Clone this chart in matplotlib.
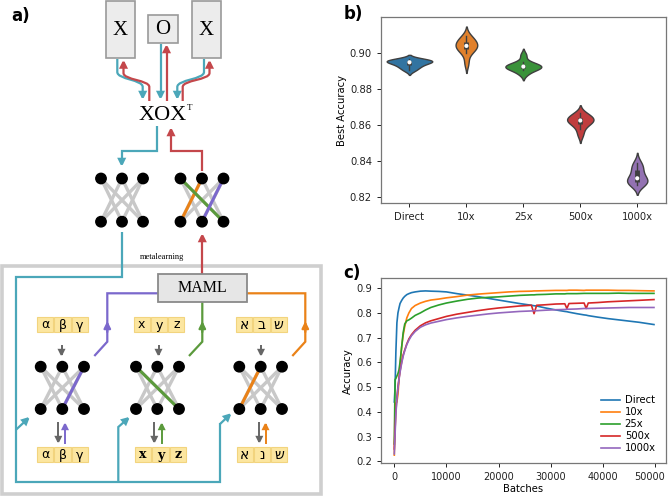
import matplotlib
matplotlib.use("Agg")
import matplotlib.pyplot as plt
import matplotlib.transforms as mtransforms
import numpy as np
from matplotlib.patches import Rectangle, Circle, FancyArrowPatch
from matplotlib.path import Path

W, H = 668, 496

# ---------------- data: panel b (best accuracy per run) ----------------
b_categories = ["Direct", "10x", "25x", "500x", "1000x"]
b_direct = [0.8905, 0.892, 0.893, 0.894, 0.8947, 0.8953, 0.8957, 0.896, 0.8963, 0.8966]
b_10x = [0.8945, 0.900, 0.902, 0.903, 0.9038, 0.9045, 0.9055, 0.9068, 0.908, 0.9095]
b_25x = [0.8885, 0.8905, 0.8915, 0.892, 0.8924, 0.8928, 0.8932, 0.8938, 0.895, 0.899]
b_500x = [0.8545, 0.858, 0.8605, 0.8615, 0.8622, 0.8628, 0.8635, 0.8642, 0.8655, 0.8665]
b_1000x = [0.8265, 0.8275, 0.8282, 0.8288, 0.8295, 0.831, 0.833, 0.8355, 0.837, 0.839]
b_colors = ["#3274a1", "#e1812c", "#3a923a", "#c03d3e", "#9372b2"]

# ---------------- data: panel c (accuracy vs batches) ----------------
batches = [0, 150, 300, 500, 700, 900, 1100, 1400, 1700, 2000, 2400, 2800, 3300, 4000,
           5000, 6000, 7000, 8500, 10000, 12000, 14000, 16000, 18000, 20000, 22000,
           24000, 26300, 26800, 27300, 29000, 31000, 32700, 33100, 33500, 35000,
           36400, 36800, 37200, 39000, 41000, 43000, 45000, 47000, 49800]
acc_direct = [0.44, 0.50, 0.64, 0.76, 0.80, 0.82, 0.838, 0.85, 0.86, 0.867, 0.874, 0.878,
              0.882, 0.885, 0.888, 0.889, 0.888, 0.887, 0.885, 0.878, 0.872, 0.866, 0.859,
              0.852, 0.845, 0.838, 0.831, 0.829, 0.828, 0.82, 0.812, 0.806, 0.805, 0.803,
              0.797, 0.792, 0.791, 0.789, 0.783, 0.777, 0.772, 0.767, 0.762, 0.753]
acc_10x = [0.225, 0.43, 0.435, 0.44, 0.47, 0.53, 0.59, 0.66, 0.71, 0.745, 0.78, 0.80,
           0.818, 0.83, 0.84, 0.847, 0.852, 0.856, 0.861, 0.866, 0.872, 0.876, 0.879,
           0.882, 0.885, 0.887, 0.888, 0.889, 0.889, 0.89, 0.891, 0.891, 0.891, 0.892,
           0.892, 0.891, 0.892, 0.892, 0.892, 0.892, 0.891, 0.891, 0.890, 0.889]
acc_25x = [0.27, 0.53, 0.535, 0.545, 0.555, 0.57, 0.60, 0.66, 0.72, 0.755, 0.768, 0.772,
           0.779, 0.79, 0.80, 0.812, 0.822, 0.832, 0.84, 0.848, 0.855, 0.86, 0.863,
           0.865, 0.868, 0.871, 0.873, 0.873, 0.874, 0.875, 0.877, 0.877, 0.878, 0.878,
           0.878, 0.879, 0.879, 0.879, 0.879, 0.879, 0.88, 0.879, 0.879, 0.879]
acc_500x = [0.25, 0.33, 0.40, 0.46, 0.50, 0.535, 0.565, 0.60, 0.63, 0.65, 0.675, 0.695,
            0.712, 0.73, 0.748, 0.76, 0.768, 0.777, 0.786, 0.795, 0.802, 0.809, 0.815,
            0.82, 0.824, 0.828, 0.831, 0.797, 0.831, 0.833, 0.836, 0.837, 0.818, 0.838,
            0.839, 0.84, 0.818, 0.84, 0.842, 0.845, 0.847, 0.849, 0.851, 0.854]
acc_1000x = [0.23, 0.31, 0.39, 0.45, 0.495, 0.53, 0.56, 0.595, 0.625, 0.647, 0.672, 0.69,
             0.708, 0.725, 0.742, 0.752, 0.759, 0.766, 0.773, 0.78, 0.786, 0.791, 0.796,
             0.80, 0.803, 0.806, 0.808, 0.809, 0.809, 0.811, 0.813, 0.814, 0.815, 0.815,
             0.816, 0.818, 0.818, 0.818, 0.819, 0.82, 0.821, 0.822, 0.822, 0.822]
c_labels = ["Direct", "10x", "25x", "500x", "1000x"]
c_colors = ["#1f77b4", "#ff7f0e", "#2ca02c", "#d62728", "#9467bd"]

# ---------------- diagram text ----------------
top_letters = ["X", "O", "X"]
greek = ["α", "β", "γ"]
latin_top = ["x", "y", "z"]
latin_bot = ["x", "y", "z"]
hebrew_top = ["א", "ב", "ש"]
hebrew_bot = ["א", "נ", "ש"]

BLUE = "#4ba7b9"
RED = "#c4474b"
PURPLE = "#7b68cc"
GREEN = "#5b9a3c"
ORANGE = "#ea8218"
EDGE = "#c8c8c8"
YFILL = "#fce6a0"
YEDGE = "#f2d47e"
SERIF = ["Liberation Serif", "DejaVu Serif"]


def rect(l, t, r, b):
    return [l / W, 1 - b / H, (r - l) / W, (b - t) / H]


fig = plt.figure(figsize=(W / 100, H / 100), dpi=100)

# ======================= panel a (diagram) =======================
ax = fig.add_axes([0, 0, 340 / W, 1])
ax.set_xlim(0, 340)
ax.set_ylim(H, 0)
ax.axis("off")


def arrow_path(verts, codes, color, lw=1.6, ms=9, head=True):
    p = Path(verts, codes)
    style = "-|>,head_length=0.45,head_width=0.22" if head else "-"
    a = FancyArrowPatch(path=p, arrowstyle=style, mutation_scale=ms, color=color,
                        lw=lw, shrinkA=0, shrinkB=0, joinstyle="miter", capstyle="butt")
    ax.add_patch(a)


def poly(points, color, lw=1.6, head=True, ms=9):
    codes = [Path.MOVETO] + [Path.LINETO] * (len(points) - 1)
    arrow_path(points, codes, color, lw=lw, ms=ms, head=head)


def sbend(x0, y0, y1, x1, y2, y3, color):
    ym = (y1 + y2) / 2
    verts = [(x0, y0), (x0, y1), (x0, ym), (x1, ym), (x1, y2), (x1, y3)]
    codes = [Path.MOVETO, Path.LINETO, Path.CURVE4, Path.CURVE4, Path.CURVE4, Path.LINETO]
    arrow_path(verts, codes, color)


def mid_arrow(x, y_tail, y_tip, color, lw=1.6, ms=9):
    ax.annotate("", xy=(x, y_tip), xytext=(x, y_tail),
                arrowprops=dict(arrowstyle="-|>,head_length=0.45,head_width=0.22",
                                color=color, lw=lw, mutation_scale=ms,
                                shrinkA=0, shrinkB=0))


ax.text(21, 16, "a)", fontsize=12, fontweight="bold", ha="center", va="center")

boxes = [(106, 1, 135, 58), (148, 15, 178, 43), (192, 1, 221, 58)]
for (l, t, r, b), s in zip(boxes, top_letters):
    ax.add_patch(Rectangle((l, t), r - l, b - t, facecolor="#ececec", edgecolor="#9a9a9a", lw=1.2))
    ax.text((l + r) / 2, (t + b) / 2 + 1, s, fontsize=15, family=SERIF, ha="center", va="center")

sbend(117.3, 59, 72, 142.7, 87, 100, BLUE)
sbend(149.3, 101, 87, 123.5, 73, 59.5, RED)
poly([(160.5, 44), (160.5, 100)], BLUE)
poly([(166.5, 101), (166.5, 44)], RED)
sbend(204, 59, 72, 177.3, 87, 100, BLUE)
sbend(182.7, 101, 87, 209.5, 73, 59.5, RED)

ax.text(163, 115.5, "XOX", fontsize=16, family=SERIF, ha="center", va="center")
ax.text(190, 108, "T", fontsize=6.5, family=SERIF, ha="center", va="center")

poly([(156.7, 126), (156.7, 151), (121.7, 151), (121.7, 167)], BLUE)
poly([(202.3, 171), (202.3, 151), (171, 151), (171, 127)], RED)


def network(xs, yt, yb, colored):
    for i in range(3):
        for j in range(3):
            if i != j:
                ax.plot([xs[i], xs[j]], [yt, yb], color=EDGE, lw=2.4, solid_capstyle="round", zorder=2)
    for (i, j, c) in colored:
        ax.plot([xs[i], xs[j]], [yt, yb], color=c, lw=2.2, solid_capstyle="round", zorder=3)
    for x in xs:
        for y in (yt, yb):
            ax.add_patch(Circle((x, y), 5.2, color="black", zorder=4))


network([101, 122, 143], 178.5, 221.7, [])
network([180.5, 202, 223.5], 178.5, 221.7, [(1, 0, ORANGE), (0, 2, GREEN), (2, 1, PURPLE)])

ax.add_patch(Rectangle((2, 266), 319, 228, facecolor="none", edgecolor="#cfcfcf", lw=2.6))
ax.text(162, 257, "metalearning", fontsize=6, family=SERIF, ha="center", va="center")

poly([(202.3, 274), (202.3, 233)], RED)

poly([(121.7, 232), (121.7, 277), (15.7, 277), (15.7, 482), (220, 482), (220, 423)], BLUE, head=False)
poly([(15.7, 430), (30, 416.7)], BLUE)
poly([(118.3, 482), (118.3, 427), (130, 416.7)], BLUE)
poly([(220, 424), (231.7, 413)], BLUE)

ax.add_patch(Rectangle((158, 274), 89, 28, facecolor="#e6e6e6", edgecolor="#8a8a8a", lw=1.3, zorder=5))
ax.text(202.5, 288.5, "MAML", fontsize=11.5, family=SERIF, ha="center", va="center", zorder=6)

poly([(158, 293.3), (107.3, 293.3), (107.3, 341.7), (94.3, 356)], PURPLE, head=False)
mid_arrow(107.3, 332, 321, PURPLE)
poly([(202.3, 302), (202.3, 341.7), (189, 356)], GREEN, head=False)
mid_arrow(202.3, 332, 321, GREEN)
poly([(247, 293.3), (305.3, 293.3), (305.3, 341.7), (292.3, 356)], ORANGE, head=False)
mid_arrow(305.3, 332, 321, ORANGE)


def symbols(x0, yc, chars, fam, size=9, weight="normal"):
    w, gap, h = 16.3, 1.0, 15
    for k, ch in enumerate(chars):
        l = x0 + k * (w + gap)
        ax.add_patch(Rectangle((l, yc - h / 2), w, h, facecolor=YFILL, edgecolor=YEDGE, lw=0.8))
        ax.text(l + w / 2, yc + 0.5, ch, fontsize=size, family=fam, fontweight=weight,
                ha="center", va="center")


symbols(37, 324.5, greek, ["DejaVu Sans"])
symbols(133.5, 324.5, latin_top, ["DejaVu Sans"])
symbols(236, 324.5, hebrew_top, ["DejaVu Serif", "DejaVu Sans"], size=10)
symbols(37, 454.5, greek, ["DejaVu Sans"])
symbols(135, 454.5, latin_bot, ["DejaVu Serif"], weight="bold")
symbols(236.5, 454.5, hebrew_bot, ["DejaVu Serif", "DejaVu Sans"], size=10)

for x in (61.5, 158.5, 261):
    poly([(x, 345), (x, 357)], "#666666", lw=1.4, ms=8)

network([40.7, 62.3, 84], 366.7, 409, [(2, 1, PURPLE)])
network([136, 157.3, 179], 366.7, 409, [(0, 2, GREEN)])
network([239.3, 260.7, 282], 366.7, 409, [(1, 0, ORANGE)])

for xg, xc, c in ((58.3, 65, PURPLE), (154.3, 161.7, GREEN), (259.3, 265.5, ORANGE)):
    poly([(xg, 422), (xg, 444)], "#666666", lw=1.4, ms=8)
    poly([(xc, 444), (xc, 422)], c, lw=1.4, ms=8)

# ======================= panel b (violins) =======================
axb = fig.add_axes(rect(381, 17.3, 665.7, 203.3))
groups = [b_direct, b_10x, b_25x, b_500x, b_1000x]
kdes = []
for d in groups:
    d = np.asarray(d)
    n = len(d)
    bw = d.std(ddof=1) * n ** (-1 / 5)
    grid = np.linspace(d.min() - 2 * bw, d.max() + 2 * bw, 300)
    dens = np.exp(-0.5 * ((grid[:, None] - d[None, :]) / bw) ** 2).sum(axis=1) / (n * bw * np.sqrt(2 * np.pi))
    kdes.append((grid, dens))
scale = 0.4 / max(k[1].max() for k in kdes)
LINE = "#3f3f3f"
for pos, (d, (grid, dens), col) in enumerate(zip(groups, kdes, b_colors)):
    d = np.asarray(d)
    half = dens * scale
    axb.fill_betweenx(grid, pos - half, pos + half, facecolor=col, edgecolor=LINE, lw=1.0, zorder=2)
    q1, med, q3 = np.percentile(d, [25, 50, 75])
    iqr = q3 - q1
    lo = d[d >= q1 - 1.5 * iqr].min()
    hi = d[d <= q3 + 1.5 * iqr].max()
    axb.plot([pos, pos], [lo, hi], color=LINE, lw=1.0, zorder=3)
    axb.plot([pos, pos], [q1, q3], color=LINE, lw=3.5, solid_capstyle="butt", zorder=3)
    axb.scatter([pos], [med], s=9, color="white", zorder=4, edgecolors="none")
axb.set_ylim(0.8163, 0.9201)
axb.set_xlim(-0.5, 4.5)
axb.set_xticks(range(len(b_categories)))
axb.set_xticklabels(b_categories)
axb.set_yticks([0.82, 0.84, 0.86, 0.88, 0.90])
axb.set_yticklabels(["0.82", "0.84", "0.86", "0.88", "0.90"])
axb.set_ylabel("Best Accuracy", fontsize=7.2, labelpad=2)
axb.tick_params(labelsize=7.2, length=3, width=0.7, colors="#222222")
for s in axb.spines.values():
    s.set_color("#777777")
    s.set_linewidth(0.9)
fig.text(353 / W, 1 - 14 / H, "b)", fontsize=12, fontweight="bold", ha="center", va="center")

# ======================= panel c (curves) =======================
axc = fig.add_axes(rect(381, 278.3, 665.7, 463.3))
for y, lab, col in zip([acc_direct, acc_10x, acc_25x, acc_500x, acc_1000x], c_labels, c_colors):
    axc.plot(batches, y, color=col, lw=1.2, label=lab)
axc.set_xlim(-2550, 52050)
axc.set_ylim(0.192, 0.94)
axc.set_xticks([0, 10000, 20000, 30000, 40000, 50000])
axc.set_yticks([0.2, 0.3, 0.4, 0.5, 0.6, 0.7, 0.8, 0.9])
axc.set_xlabel("Batches", fontsize=7.2, labelpad=1)
axc.set_ylabel("Accuracy", fontsize=7.2, labelpad=2)
axc.tick_params(labelsize=7.2, length=3, width=0.7, colors="#222222")
axc.tick_params(axis="x", labelsize=7.0)
for s in axc.spines.values():
    s.set_color("#777777")
    s.set_linewidth(0.9)
last = axc.get_xticklabels()[-1]
last.set_transform(last.get_transform() + mtransforms.ScaledTranslation(-5 / 100, 0, fig.dpi_scale_trans))
axc.legend(loc="lower right", fontsize=7.2, frameon=False, handlelength=1.9, handletextpad=0.5,
           labelspacing=0.2, borderaxespad=0.6)
fig.text(352 / W, 1 - 273 / H, "c)", fontsize=12, fontweight="bold", ha="center", va="center")

fig.savefig("out.png", dpi=100)
